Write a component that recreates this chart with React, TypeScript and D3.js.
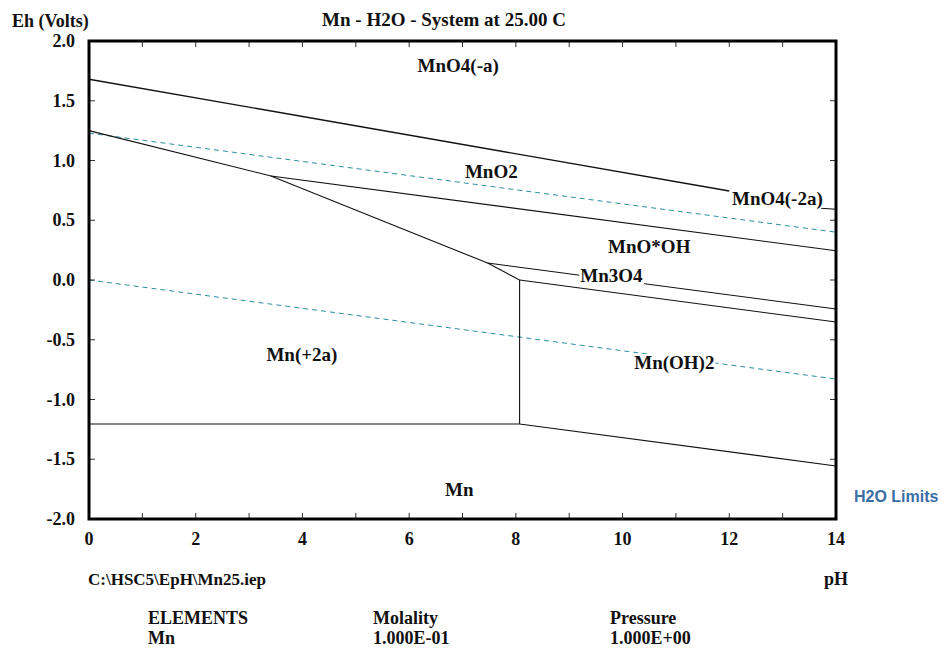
import React, { useRef, useEffect } from 'react'
import * as d3 from 'd3'

// axis ticks
const phTicks = [0, 2, 4, 6, 8, 10, 12, 14]
const phMinorTicks = d3.range(0, 15, 1)
const ehTicks = [2.0, 1.5, 1.0, 0.5, 0.0, -0.5, -1.0, -1.5, -2.0]

// stability boundaries, [pH, Eh]
const mnO4aBoundary = [[0, 1.68], [12.0, 0.745]]
const mnO4b2Boundary = [[13.72, 0.6], [14, 0.592]]
const mn2aBoundary = [[0, 1.25], [3.41, 0.87], [7.47, 0.142], [8.07, 0.0], [8.07, -1.205]]
const mnO2Boundary = [[3.41, 0.87], [14, 0.245]]
const mnOOHBoundary = [[7.47, 0.142], [14, -0.243]]
const mn3O4Boundary = [[8.07, 0.0], [14, -0.352]]
const mnMetalBoundary = [[0, -1.205], [8.07, -1.205], [14, -1.556]]
const boundaries = [mnO4aBoundary, mnO4b2Boundary, mn2aBoundary, mnO2Boundary, mnOOHBoundary, mn3O4Boundary, mnMetalBoundary]

// water stability limits
const h2oUpper = [[0, 1.229], [14, 0.4]]
const h2oLower = [[0, 0.0], [14, -0.829]]

// species labels: name, pH, Eh
const speciesNames = ['MnO4(-a)', 'MnO2', 'MnO4(-2a)', 'MnO*OH', 'Mn3O4', 'Mn(+2a)', 'Mn(OH)2', 'Mn']
const speciesPh = [6.92, 7.54, 12.05, 10.5, 9.79, 3.99, 10.97, 6.94]
const speciesEh = [1.741, 0.854, 0.628, 0.226, -0.017, -0.678, -0.745, -1.808]

const elementRows = [
  ['ELEMENTS', 'Molality', 'Pressure'],
  ['Mn', '1.000E-01', '1.000E+00']
]

const W = 945
const H = 649
const serif = 'Liberation Serif, Times New Roman, DejaVu Serif, serif'

export default function App() {
  const ref = useRef<SVGSVGElement>(null)

  useEffect(() => {
    if (!ref.current) return
    const svg = d3.select(ref.current)
    svg.selectAll('*').remove()

    const x = d3.scaleLinear().domain([0, 14]).range([89, 836])
    const y = d3.scaleLinear().domain([-2, 2]).range([519, 41])
    const line = d3.line<number[]>().x(d => x(d[0])).y(d => y(d[1]))

    const g = svg.append('g')

    // water limits
    ;[h2oUpper, h2oLower].forEach(pts => {
      g.append('path')
        .attr('d', line(pts))
        .attr('fill', 'none')
        .attr('stroke', '#2b8f9c')
        .attr('stroke-width', 1)
        .attr('stroke-dasharray', '5,4')
    })

    // boundaries
    boundaries.forEach((pts, i) => {
      g.append('path')
        .attr('d', line(pts))
        .attr('fill', 'none')
        .attr('stroke', '#111')
        .attr('stroke-width', i === 0 ? 1.4 : 1.1)
    })

    // species labels with white background
    speciesNames.forEach((name, i) => {
      const lg = g.append('g')
      const t = lg.append('text')
        .attr('x', x(speciesPh[i]))
        .attr('y', y(speciesEh[i]))
        .attr('text-anchor', name === 'MnO4(-2a)' ? 'start' : 'middle')
        .style('font-family', serif)
        .attr('font-size', 19)
        .attr('font-weight', 'bold')
        .attr('fill', '#111')
        .text(name)
      const b = (t.node() as SVGTextElement).getBBox()
      lg.insert('rect', 'text')
        .attr('x', b.x - 1)
        .attr('y', b.y + 2)
        .attr('width', b.width + 2)
        .attr('height', b.height - 4)
        .attr('fill', 'white')
    })

    // ticks
    const tickLen = 6
    phMinorTicks.forEach(p => {
      g.append('line').attr('x1', x(p)).attr('x2', x(p)).attr('y1', y(2)).attr('y2', y(2) + tickLen)
        .attr('stroke', '#333')
      g.append('line').attr('x1', x(p)).attr('x2', x(p)).attr('y1', y(-2)).attr('y2', y(-2) - tickLen)
        .attr('stroke', '#333')
    })
    ehTicks.forEach(e => {
      g.append('line').attr('x1', x(0)).attr('x2', x(0) + tickLen).attr('y1', y(e)).attr('y2', y(e))
        .attr('stroke', '#333')
      g.append('line').attr('x1', x(14)).attr('x2', x(14) - tickLen).attr('y1', y(e)).attr('y2', y(e))
        .attr('stroke', '#333')
    })

    // frame
    g.append('rect')
      .attr('x', x(0)).attr('y', y(2))
      .attr('width', x(14) - x(0)).attr('height', y(-2) - y(2))
      .attr('fill', 'none').attr('stroke', '#000').attr('stroke-width', 3)

    const txt = (tx: number, ty: number, s: string, anchor = 'start', size = 19) =>
      g.append('text')
        .attr('x', tx).attr('y', ty)
        .attr('text-anchor', anchor)
        .style('font-family', serif)
        .attr('font-size', size)
        .attr('font-weight', 'bold')
        .attr('fill', '#111')
        .text(s)

    // tick labels (plain hyphen for negatives, as in the original)
    const fmt = (v: number) => v.toFixed(1)
    ehTicks.forEach(e => txt(75, y(e) + 6, fmt(e), 'end', 18))
    phTicks.forEach(p => txt(x(p), 545, String(p), 'middle', 18))

    // titles
    txt(444, 26, 'Mn - H2O - System at 25.00 C', 'middle')
    txt(12, 27, 'Eh (Volts)', 'start', 18)
    txt(848, 585, 'pH', 'end', 18)
    txt(88, 585, 'C:\\HSC5\\EpH\\Mn25.iep', 'start', 17)

    g.append('text')
      .attr('x', 854).attr('y', 502)
      .style('font-family', 'Liberation Sans, Arial, sans-serif')
      .attr('font-size', 16)
      .attr('font-weight', 'bold')
      .attr('fill', '#3a6ea5')
      .text('H2O Limits')

    // elements table
    const cols = [148, 373, 610]
    elementRows.forEach((row, r) => {
      row.forEach((s, c) => txt(cols[c], 624 + r * 20, s, 'start', 18))
    })
  }, [])

  return (
    <svg
      ref={ref}
      width={W}
      height={H}
      style={{ position: 'absolute', left: 0, top: 0, background: 'white' }}
    />
  )
}
